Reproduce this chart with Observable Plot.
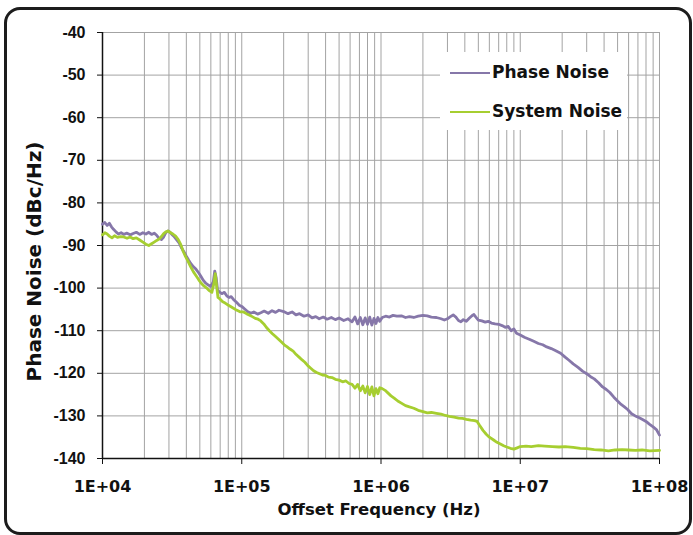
<!DOCTYPE html>
<html>
<head>
<meta charset="utf-8">
<script src="https://cdn.jsdelivr.net/npm/d3@7"></script>
<script src="https://cdn.jsdelivr.net/npm/@observablehq/plot@0.6"></script>
<style>
  html, body { margin: 0; padding: 0; background: #fff; }
  #wrap { position: relative; width: 693px; height: 535px; overflow: hidden; }
  #frame { position: absolute; left: 4px; top: 7px; width: 688px; height: 528px; box-sizing: border-box;
           border: 3px solid #1c1c1c; border-radius: 16px; pointer-events: none; }
  #legend { position: absolute; left: 440px; top: 52px; width: 187px; height: 78px; background: #fff;
            font-family: "DejaVu Sans", sans-serif; font-weight: bold; font-size: 17px; color: #111; }
  .sw { position: absolute; left: 10px; width: 40px; height: 0; border-top: 2.5px solid; }
  .lt { position: absolute; left: 52px; line-height: 20px; white-space: nowrap; }
</style>
</head>
<body>
<div id="wrap"><div id="chart"></div>
  <div id="legend"></div>
  <div id="frame"></div>
</div>
<script>
// ---- data ----
const seriesNames = ["Phase Noise", "System Noise"];
const seriesColors = ["#8677a9", "#a6ce30"];

const phaseFreq = [1.00e4,1.04e4,1.08e4,1.12e4,1.16e4,1.20e4,1.25e4,1.30e4,1.36e4,1.42e4,1.50e4,1.58e4,1.66e4,1.75e4,1.85e4,1.95e4,2.05e4,2.15e4,2.25e4,2.35e4,2.45e4,2.55e4,2.65e4,2.75e4,2.85e4,2.95e4,3.05e4,3.15e4,3.25e4,3.40e4,3.55e4,3.70e4,3.85e4,4.00e4,4.15e4,4.30e4,4.50e4,4.70e4,4.90e4,5.10e4,5.30e4,5.50e4,5.75e4,6.00e4,6.25e4,6.40e4,6.55e4,6.70e4,6.90e4,7.20e4,7.50e4,7.80e4,8.10e4,8.40e4,8.80e4,9.20e4,9.60e4,1.00e5,1.05e5,1.10e5,1.16e5,1.22e5,1.30e5,1.37e5,1.45e5,1.55e5,1.65e5,1.75e5,1.85e5,2.00e5,2.15e5,2.30e5,2.45e5,2.60e5,2.80e5,3.00e5,3.20e5,3.40e5,3.60e5,3.85e5,4.10e5,4.40e5,4.70e5,5.00e5,5.40e5,5.80e5,6.20e5,6.50e5,6.80e5,7.10e5,7.40e5,7.70e5,8.00e5,8.30e5,8.60e5,8.90e5,9.20e5,9.50e5,9.80e5,1.02e6,1.08e6,1.15e6,1.22e6,1.30e6,1.40e6,1.50e6,1.60e6,1.72e6,1.85e6,2.00e6,2.15e6,2.30e6,2.50e6,2.70e6,2.85e6,3.00e6,3.15e6,3.30e6,3.45e6,3.60e6,3.75e6,3.90e6,4.10e6,4.30e6,4.50e6,4.65e6,4.80e6,5.00e6,5.30e6,5.60e6,5.90e6,6.20e6,6.60e6,7.00e6,7.40e6,7.80e6,8.20e6,8.60e6,9.00e6,9.40e6,1.00e7,1.08e7,1.16e7,1.25e7,1.35e7,1.45e7,1.55e7,1.67e7,1.80e7,1.95e7,2.10e7,2.25e7,2.40e7,2.60e7,2.80e7,3.00e7,3.20e7,3.40e7,3.65e7,3.90e7,4.15e7,4.40e7,4.70e7,5.00e7,5.30e7,5.60e7,5.90e7,6.30e7,6.70e7,7.10e7,7.50e7,8.00e7,8.50e7,9.00e7,9.50e7,1.00e8];
const phaseNoise = [-85.0,-84.6,-85.3,-84.8,-85.6,-86.2,-86.8,-87.3,-87.0,-87.4,-87.1,-87.5,-87.2,-86.9,-87.4,-87.0,-87.3,-86.9,-87.4,-87.1,-87.6,-88.3,-88.6,-88.0,-87.0,-86.6,-86.9,-87.4,-87.8,-88.6,-89.4,-90.6,-91.5,-92.5,-93.4,-94.2,-95.0,-95.6,-96.4,-97.3,-98.2,-98.8,-99.3,-99.6,-98.5,-96.0,-97.5,-100.4,-100.9,-101.3,-101.0,-101.8,-102.2,-102.0,-102.8,-103.4,-104.0,-104.3,-104.9,-105.5,-105.9,-105.6,-106.1,-105.8,-105.4,-105.9,-105.3,-105.7,-105.2,-105.5,-106.0,-105.6,-106.3,-106.0,-106.6,-106.3,-107.0,-106.7,-107.2,-106.8,-107.3,-106.9,-107.4,-107.0,-107.6,-107.2,-107.9,-106.8,-108.4,-106.9,-108.6,-107.0,-108.5,-106.8,-108.7,-107.1,-108.3,-106.9,-107.8,-106.9,-106.6,-106.8,-106.4,-106.6,-106.5,-106.9,-106.7,-106.9,-106.6,-106.4,-106.5,-106.8,-106.9,-107.2,-107.5,-107.2,-106.7,-106.3,-106.8,-107.6,-107.9,-107.4,-107.8,-107.1,-106.5,-106.2,-106.8,-107.5,-107.7,-108.0,-107.8,-108.2,-108.4,-108.5,-108.8,-109.2,-109.0,-110.0,-109.6,-110.6,-111.0,-111.6,-112.0,-112.5,-113.0,-113.3,-113.8,-114.2,-114.7,-115.3,-116.2,-117.0,-117.8,-118.6,-119.5,-120.1,-120.8,-121.3,-122.2,-123.2,-123.8,-124.5,-125.6,-126.5,-127.3,-127.9,-128.5,-129.5,-130.0,-130.4,-130.8,-131.3,-132.0,-132.6,-133.2,-134.5];

const systemFreq = [1.00e4,1.04e4,1.08e4,1.12e4,1.17e4,1.22e4,1.28e4,1.35e4,1.42e4,1.50e4,1.58e4,1.66e4,1.75e4,1.85e4,1.95e4,2.05e4,2.15e4,2.25e4,2.35e4,2.45e4,2.55e4,2.65e4,2.75e4,2.85e4,2.95e4,3.05e4,3.20e4,3.35e4,3.50e4,3.65e4,3.80e4,3.95e4,4.10e4,4.30e4,4.50e4,4.70e4,4.90e4,5.10e4,5.35e4,5.60e4,5.85e4,6.10e4,6.30e4,6.45e4,6.60e4,6.75e4,7.00e4,7.30e4,7.60e4,7.90e4,8.20e4,8.60e4,9.00e4,9.40e4,9.80e4,1.03e5,1.08e5,1.13e5,1.19e5,1.25e5,1.31e5,1.37e5,1.44e5,1.50e5,1.58e5,1.66e5,1.74e5,1.82e5,1.92e5,2.02e5,2.12e5,2.22e5,2.34e5,2.46e5,2.58e5,2.70e5,2.84e5,2.98e5,3.13e5,3.28e5,3.45e5,3.62e5,3.80e5,4.00e5,4.20e5,4.45e5,4.70e5,5.00e5,5.30e5,5.60e5,5.90e5,6.20e5,6.50e5,6.80e5,7.10e5,7.40e5,7.70e5,8.00e5,8.30e5,8.60e5,8.90e5,9.20e5,9.50e5,9.80e5,1.02e6,1.07e6,1.12e6,1.18e6,1.25e6,1.32e6,1.40e6,1.50e6,1.60e6,1.72e6,1.85e6,2.00e6,2.15e6,2.30e6,2.50e6,2.70e6,2.90e6,3.10e6,3.35e6,3.60e6,3.85e6,4.10e6,4.40e6,4.70e6,4.90e6,5.10e6,5.40e6,5.70e6,6.00e6,6.40e6,6.80e6,7.20e6,7.60e6,8.00e6,8.50e6,9.00e6,9.50e6,1.00e7,1.10e7,1.20e7,1.35e7,1.50e7,1.70e7,1.90e7,2.10e7,2.40e7,2.70e7,3.00e7,3.40e7,3.80e7,4.30e7,4.80e7,5.40e7,6.00e7,6.70e7,7.50e7,8.50e7,1.00e8];
const systemNoise = [-87.5,-87.0,-87.3,-87.8,-88.2,-87.7,-88.1,-87.9,-88.0,-88.3,-88.0,-88.4,-88.2,-88.7,-89.2,-89.7,-90.0,-89.6,-89.2,-88.8,-88.5,-87.9,-87.2,-86.8,-86.6,-86.9,-87.3,-87.8,-88.6,-89.8,-91.4,-92.6,-93.6,-95.0,-96.2,-97.1,-98.0,-98.8,-99.5,-100.0,-100.6,-101.0,-99.0,-96.6,-99.5,-102.2,-102.6,-103.2,-103.5,-103.9,-104.2,-104.6,-105.0,-105.3,-105.6,-105.6,-106.0,-106.3,-106.7,-107.1,-107.3,-107.7,-108.4,-109.2,-110.0,-110.7,-111.3,-111.9,-112.6,-113.3,-113.8,-114.3,-114.8,-115.6,-116.2,-116.8,-117.4,-118.2,-118.8,-119.4,-119.8,-120.1,-120.4,-120.5,-120.9,-121.0,-121.4,-121.6,-122.0,-121.8,-122.4,-122.6,-123.5,-122.6,-124.1,-123.0,-124.6,-123.1,-125.0,-123.2,-125.3,-123.6,-124.8,-123.4,-123.6,-124.0,-124.6,-125.3,-125.9,-126.5,-127.0,-127.6,-127.9,-128.2,-128.7,-129.0,-129.3,-129.2,-129.4,-129.6,-129.9,-130.1,-130.3,-130.5,-130.6,-130.8,-131.0,-131.1,-131.3,-132.2,-133.4,-134.3,-135.0,-135.6,-136.2,-136.6,-137.0,-137.3,-137.6,-137.8,-137.5,-137.2,-137.1,-137.2,-137.0,-137.1,-137.2,-137.3,-137.2,-137.4,-137.6,-137.7,-137.9,-138.0,-138.2,-138.0,-137.9,-138.0,-138.1,-138.0,-138.2,-138.1];

const xTickValues = [1e4, 1e5, 1e6, 1e7, 1e8];
const xTickLabels = ["1E+04", "1E+05", "1E+06", "1E+07", "1E+08"];
const yTickValues = [-40, -50, -60, -70, -80, -90, -100, -110, -120, -130, -140];
const yTickLabels = ["-40", "-50", "-60", "-70", "-80", "-90", "-100", "-110", "-120", "-130", "-140"];
const xTitle = "Offset Frequency (Hz)";
const yTitle = "Phase Noise (dBc/Hz)";

// ---- build ----
const phaseData = phaseFreq.map((f, i) => ({f, v: phaseNoise[i]}));
const systemData = systemFreq.map((f, i) => ({f, v: systemNoise[i]}));
const gridFreqs = [];
for (let d = 1e4; d < 1e8; d *= 10) for (let k = 1; k <= 9; k++) gridFreqs.push(k * d);
gridFreqs.push(1e8);

const gridColor = "#a3a3a3";
const chart = Plot.plot({
  width: 693,
  height: 535,
  marginLeft: 102,
  marginRight: 34,
  marginTop: 32,
  marginBottom: 77,
  style: {fontFamily: "DejaVu Sans, sans-serif", fontWeight: "bold", fontSize: "16px", color: "#111", background: "transparent"},
  x: {type: "log", domain: [1e4, 1e8]},
  y: {domain: [-140, -40]},
  marks: [
    Plot.gridX(gridFreqs, {stroke: gridColor, strokeOpacity: 1, strokeWidth: 1}),
    Plot.gridY(yTickValues, {stroke: gridColor, strokeOpacity: 1, strokeWidth: 1}),
    Plot.ruleX([1e4], {stroke: "#111", strokeWidth: 1.5}),
    Plot.ruleY([-140], {stroke: "#111", strokeWidth: 1.5}),
    Plot.line(phaseData, {x: "f", y: "v", stroke: seriesColors[0], strokeWidth: 2.8}),
    Plot.line(systemData, {x: "f", y: "v", stroke: seriesColors[1], strokeWidth: 2.8}),
    Plot.axisX(xTickValues, {tickFormat: (d) => xTickLabels[xTickValues.indexOf(d)], tickSize: 6, tickPadding: 16, fontSize: 16, label: null, stroke: "#111"}),
    Plot.axisY(yTickValues, {tickFormat: (d) => yTickLabels[yTickValues.indexOf(d)], tickSize: 5, tickPadding: 12, fontSize: 16, fontFamily: "Liberation Sans, Arial, sans-serif", label: null, stroke: "#111"}),
    Plot.text([xTitle], {text: (d) => d, frameAnchor: "bottom", textAnchor: "middle", lineAnchor: "middle", dx: -2, dy: 51, fontSize: 16.5, fill: "#111"}),
    Plot.text([yTitle], {text: (d) => d, frameAnchor: "left", textAnchor: "middle", lineAnchor: "middle", rotate: -90, dx: -68, dy: 16, fontSize: 20, fill: "#111"})
  ]
});
document.getElementById("chart").appendChild(chart);

// legend
const legend = document.getElementById("legend");
seriesNames.forEach((name, i) => {
  const top = i === 0 ? 21 : 60;
  const sw = document.createElement("div");
  sw.className = "sw";
  sw.style.top = (top - 1) + "px";
  sw.style.borderTopColor = seriesColors[i];
  const lt = document.createElement("div");
  lt.className = "lt";
  lt.style.top = (top - 11) + "px";
  lt.textContent = name;
  legend.appendChild(sw);
  legend.appendChild(lt);
});
</script>
</body>
</html>
